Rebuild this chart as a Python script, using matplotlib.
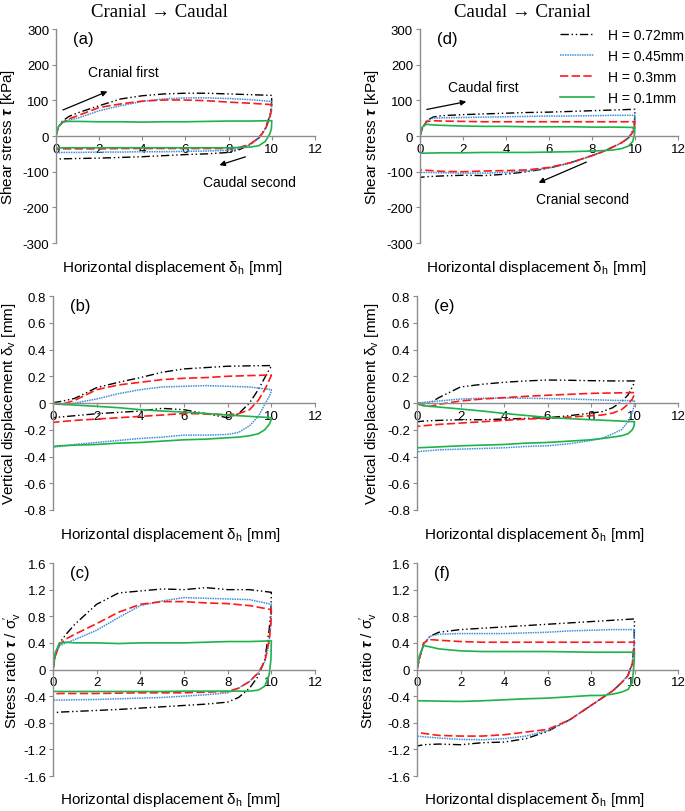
import numpy as np
import matplotlib
matplotlib.use("Agg")
import matplotlib.pyplot as plt
from matplotlib.ticker import FuncFormatter

plt.rcParams['font.family'] = ['Liberation Sans', 'DejaVu Sans']
plt.rcParams['axes.unicode_minus'] = False
plt.rcParams['mathtext.fontset'] = 'custom'
plt.rcParams['mathtext.rm'] = 'Liberation Sans'
plt.rcParams['mathtext.it'] = 'Liberation Sans:italic'
plt.rcParams['mathtext.bf'] = 'Liberation Sans:italic:bold'

# -------------------------------------------------
# Data
# each loop = loading branch (0 -> 10 mm) + unloading branch (10 -> 0 mm)
# -------------------------------------------------
x_load = [0, 0.1, 0.3, 0.6, 1, 2, 3, 4, 5, 6, 7, 8, 9, 10]
x_unload = [10, 9.98, 9.9, 9.7, 9.4, 9, 8.5, 8, 7, 6, 5, 4, 3, 2, 1, 0.3, 0]

series_labels = ["H = 0.72mm", "H = 0.45mm", "H = 0.3mm", "H = 0.1mm"]

# (a) shear stress, cranial -> caudal [kPa]
tau_a_072 = [0, 25, 42, 55, 65, 85, 104, 113, 118, 120, 120, 118, 116, 114,
             114, 85, 55, 22, -5, -24, -38, -46, -50, -52, -55, -58, -60, -62, -63, -64, -65]
tau_a_045 = [0, 25, 38, 45, 50, 71, 85, 97, 104, 107, 107, 105, 102, 97,
             97, 75, 55, 20, -5, -24, -35, -40, -42, -43, -44, -44, -45, -45, -46, -46, -47]
tau_a_03 = [0, 25, 38, 48, 57, 80, 90, 98, 101, 101, 99, 95, 92, 88,
            88, 70, 50, 18, -5, -22, -32, -35, -35, -35, -35, -35, -35, -36, -36, -36, -37]
tau_a_01 = [0, 25, 40, 41, 41, 40, 40, 39, 40, 40, 41, 42, 42, 43,
            43, 20, 5, -15, -27, -31, -32, -33, -33, -33, -33, -33, -33, -33, -33, -33, -34]

# (d) shear stress, caudal -> cranial [kPa]
tau_d_072 = [0, 20, 42, 53, 57, 60, 62, 64, 66, 67, 69, 71, 73, 75,
             75, 40, 15, -5, -18, -30, -44, -55, -75, -90, -100, -107, -111, -110, -112, -114, -116]
tau_d_045 = [0, 20, 42, 50, 51, 52, 53, 54, 55, 56, 56, 57, 58, 58,
             58, 35, 12, -5, -18, -30, -44, -55, -75, -90, -98, -102, -104, -104, -103, -102, -102]
tau_d_03 = [0, 22, 40, 43, 42, 41, 40, 40, 40, 40, 40, 40, 40, 40,
            40, 25, 10, -5, -18, -30, -44, -55, -75, -88, -95, -97, -98, -100, -99, -96, -95]
tau_d_01 = [0, 25, 33, 31, 30, 28, 27, 27, 26, 26, 26, 25, 25, 24,
            24, 5, -15, -28, -35, -39, -41, -42, -44, -45, -46, -46, -46, -47, -47, -48, -48]

# (b) vertical displacement, cranial -> caudal [mm]
dv_b_072 = [0, 0.005, 0.01, 0.02, 0.035, 0.115, 0.155, 0.19, 0.23, 0.255, 0.265, 0.275, 0.278, 0.28,
            0.28, 0.27, 0.25, 0.19, 0.1, 0.0, -0.08, -0.11, -0.08, -0.05, -0.04, -0.06, -0.07, -0.08, -0.095, -0.105, -0.11]
dv_b_045 = [0, -0.005, -0.01, -0.01, 0.0, 0.03, 0.07, 0.1, 0.12, 0.125, 0.13, 0.125, 0.12, 0.1,
            0.1, 0.08, 0.05, -0.01, -0.1, -0.17, -0.22, -0.235, -0.24, -0.24, -0.255, -0.265, -0.28, -0.295, -0.31, -0.325, -0.33]
dv_b_03 = [0, -0.005, -0.01, 0.0, 0.02, 0.1, 0.135, 0.155, 0.175, 0.185, 0.19, 0.2, 0.205, 0.21,
           0.21, 0.2, 0.17, 0.1, 0.02, -0.05, -0.08, -0.088, -0.082, -0.078, -0.09, -0.1, -0.11, -0.12, -0.13, -0.14, -0.145]
dv_b_01 = [0, -0.003, -0.008, -0.012, -0.015, -0.025, -0.035, -0.05, -0.06, -0.068, -0.078, -0.09, -0.1, -0.11,
           -0.11, -0.13, -0.16, -0.2, -0.23, -0.245, -0.255, -0.26, -0.27, -0.275, -0.285, -0.295, -0.3, -0.31, -0.315, -0.32, -0.325]

# (e) vertical displacement, caudal -> cranial [mm]
dv_e_072 = [0, -0.002, -0.005, 0.0, 0.04, 0.12, 0.14, 0.155, 0.165, 0.172, 0.17, 0.167, 0.165, 0.165,
            0.165, 0.15, 0.12, 0.06, 0.01, -0.035, -0.065, -0.075, -0.095, -0.11, -0.115, -0.12, -0.125, -0.125, -0.13, -0.135, -0.14]
dv_e_045 = [0, 0.0, 0.005, 0.01, 0.015, 0.03, 0.035, 0.038, 0.036, 0.033, 0.03, 0.025, 0.02, 0.017,
            0.017, -0.02, -0.07, -0.14, -0.2, -0.23, -0.265, -0.28, -0.305, -0.32, -0.325, -0.335, -0.34, -0.345, -0.35, -0.36, -0.365]
dv_e_03 = [0, -0.01, -0.02, -0.025, -0.01, 0.015, 0.03, 0.04, 0.05, 0.058, 0.065, 0.072, 0.075, 0.078,
           0.078, 0.06, 0.03, -0.01, -0.05, -0.075, -0.09, -0.095, -0.105, -0.115, -0.12, -0.13, -0.14, -0.15, -0.16, -0.17, -0.175]
dv_e_01 = [0, -0.01, -0.02, -0.025, -0.03, -0.045, -0.06, -0.078, -0.093, -0.108, -0.117, -0.125, -0.132, -0.14,
           -0.14, -0.17, -0.2, -0.23, -0.245, -0.255, -0.265, -0.275, -0.285, -0.295, -0.3, -0.31, -0.315, -0.32, -0.328, -0.333, -0.335]

# (c) stress ratio, cranial -> caudal
sr_c_072 = [0, 0.2, 0.4, 0.53, 0.68, 0.98, 1.15, 1.18, 1.21, 1.2, 1.23, 1.2, 1.2, 1.16,
            1.16, 0.9, 0.6, 0.15, -0.1, -0.28, -0.42, -0.49, -0.52, -0.54, -0.56, -0.58, -0.6, -0.615, -0.63, -0.64, -0.65]
sr_c_045 = [0, 0.2, 0.36, 0.4, 0.45, 0.59, 0.78, 0.96, 1.03, 1.08, 1.07, 1.06, 1.05, 0.98,
            0.98, 0.7, 0.4, 0.12, -0.05, -0.18, -0.28, -0.35, -0.38, -0.4, -0.42, -0.43, -0.44, -0.45, -0.455, -0.46, -0.46]
sr_c_03 = [0, 0.2, 0.38, 0.46, 0.53, 0.69, 0.86, 0.98, 1.02, 1.02, 1.0, 0.99, 0.96, 0.9,
           0.9, 0.7, 0.45, 0.12, -0.05, -0.18, -0.28, -0.33, -0.34, -0.35, -0.35, -0.35, -0.355, -0.36, -0.36, -0.36, -0.37]
sr_c_01 = [0, 0.25, 0.4, 0.41, 0.4, 0.4, 0.39, 0.4, 0.4, 0.4, 0.41, 0.42, 0.42, 0.43,
           0.43, 0.15, -0.08, -0.25, -0.31, -0.325, -0.325, -0.325, -0.325, -0.325, -0.33, -0.33, -0.33, -0.33, -0.33, -0.33, -0.33]

# (f) stress ratio, caudal -> cranial
sr_f_072 = [0, 0.15, 0.38, 0.5, 0.56, 0.6, 0.62, 0.64, 0.66, 0.68, 0.7, 0.72, 0.74, 0.76,
            0.76, 0.4, 0.1, -0.09, -0.2, -0.32, -0.43, -0.54, -0.76, -0.93, -1.04, -1.09, -1.1, -1.13, -1.12, -1.13, -1.15]
sr_f_045 = [0, 0.15, 0.38, 0.5, 0.53, 0.54, 0.54, 0.54, 0.55, 0.56, 0.58, 0.59, 0.6, 0.6,
            0.6, 0.35, 0.1, -0.09, -0.2, -0.32, -0.43, -0.54, -0.76, -0.92, -1.0, -1.04, -1.055, -1.05, -1.03, -1.01, -1.0]
sr_f_03 = [0, 0.15, 0.4, 0.45, 0.44, 0.42, 0.41, 0.41, 0.41, 0.41, 0.41, 0.41, 0.41, 0.41,
           0.41, 0.25, 0.08, -0.09, -0.2, -0.32, -0.43, -0.54, -0.76, -0.9, -0.94, -0.98, -1.0, -1.0, -0.99, -0.96, -0.94]
sr_f_01 = [0, 0.2, 0.36, 0.34, 0.31, 0.28, 0.27, 0.27, 0.27, 0.27, 0.265, 0.26, 0.26, 0.26,
           0.26, 0.1, -0.2, -0.3, -0.34, -0.37, -0.39, -0.39, -0.41, -0.43, -0.44, -0.455, -0.47, -0.48, -0.475, -0.47, -0.47]

# -------------------------------------------------
# Styles
# -------------------------------------------------
colores = ["black", "#3d8fd9", "#ff1a1a", "#1db34a"]
estilos = [(0, (6, 2, 1, 2, 1, 2)), (0, (1, 0.6)), (0, (5, 2)), "-"]
anchos = [1.0, 1.1, 1.2, 1.2]

lab_x = r"Horizontal displacement $\mathrm{\delta}_\mathrm{h}$ [mm]"
lab_tau = r"Shear stress $\mathbf{\tau}$ [kPa]"
lab_dv = r"Vertical displacement $\mathrm{\delta}_\mathrm{v}$ [mm]"
lab_sr = r"Stress ratio $\mathbf{\tau}$ / $\mathrm{\sigma}_\mathrm{v}^{\prime}$"

x_loop = x_load + x_unload


def fmt_tick(v, pos):
    return f"{round(v, 2) + 0:g}"


def dibujar_panel(ax, curvas, ylim, yticks, ylabel, letra, ylab_x):
    lineas = []
    for y, c, ls, lw, lab in zip(curvas, colores, estilos, anchos, series_labels):
        ln, = ax.plot(x_loop, y, color=c, linestyle=ls, lw=lw, label=lab)
        lineas.append(ln)

    ax.set_xlim(0, 12)
    ax.set_ylim(*ylim)
    ax.set_xticks(range(0, 13, 2))
    ax.set_yticks(yticks)
    ax.yaxis.set_major_formatter(FuncFormatter(fmt_tick))

    for s in ["top", "right"]:
        ax.spines[s].set_visible(False)
    ax.spines["bottom"].set_position(("data", 0))
    ax.spines["left"].set_position(("data", 0))
    for s in ["bottom", "left"]:
        ax.spines[s].set_color("#8c8c8c")
        ax.spines[s].set_linewidth(1.0)
    ax.tick_params(axis="both", labelsize=9.5, length=3, width=0.8,
                   color="#8c8c8c", direction="out", pad=2)

    ax.set_ylabel(ylabel, fontsize=11)
    ax.yaxis.set_label_coords(ylab_x, 0.5)
    ax.text(0.45, -0.11, lab_x, transform=ax.transAxes, fontsize=11,
            ha="center", va="center")
    ax.text(0.065, 0.955, letra, transform=ax.transAxes, fontsize=12,
            ha="left", va="center")
    return lineas


fig = plt.figure(figsize=(6.85, 8.12), dpi=100)

# rectangles in figure fraction: [left, bottom, width, height]
ax_a = fig.add_axes([0.0818, 0.6995, 0.378, 0.2635])
ax_d = fig.add_axes([0.6131, 0.6995, 0.3766, 0.2635])
ax_b = fig.add_axes([0.0774, 0.3707, 0.3825, 0.2635])
ax_e = fig.add_axes([0.6088, 0.3707, 0.381, 0.2635])
ax_c = fig.add_axes([0.0774, 0.0431, 0.3825, 0.2623])
ax_f = fig.add_axes([0.6088, 0.0431, 0.381, 0.2623])

t_ticks = range(-300, 301, 100)
v_ticks = np.arange(-0.8, 0.81, 0.2)
r_ticks = np.arange(-1.6, 1.61, 0.4)

dibujar_panel(ax_a, [tau_a_072, tau_a_045, tau_a_03, tau_a_01], (-300, 300), t_ticks, lab_tau, "(a)", -0.151)
lineas_d = dibujar_panel(ax_d, [tau_d_072, tau_d_045, tau_d_03, tau_d_01], (-300, 300), t_ticks, lab_tau, "(d)", -0.151)
dibujar_panel(ax_b, [dv_b_072, dv_b_045, dv_b_03, dv_b_01], (-0.8, 0.8), v_ticks, lab_dv, "(b)", -0.134)
dibujar_panel(ax_e, [dv_e_072, dv_e_045, dv_e_03, dv_e_01], (-0.8, 0.8), v_ticks, lab_dv, "(e)", -0.138)
dibujar_panel(ax_c, [sr_c_072, sr_c_045, sr_c_03, sr_c_01], (-1.6, 1.6), r_ticks, lab_sr, "(c)", -0.11)
dibujar_panel(ax_f, [sr_f_072, sr_f_045, sr_f_03, sr_f_01], (-1.6, 1.6), r_ticks, lab_sr, "(f)", -0.142)

# column titles
fig.text(0.233, 0.985, "Cranial \u2192 Caudal", fontsize=13.5, ha="center", va="center",
         family=["Liberation Serif", "DejaVu Serif"])
fig.text(0.763, 0.985, "Caudal \u2192 Cranial", fontsize=13.5, ha="center", va="center",
         family=["Liberation Serif", "DejaVu Serif"])

# direction arrows
flecha = dict(arrowstyle="-|>", color="black", lw=0.9, mutation_scale=8)
ax_a.annotate("", xy=(2.5, 128), xytext=(0.2, 70), arrowprops=flecha)
ax_a.text(3.1, 179, "Cranial first", fontsize=10, ha="center", va="center")
ax_a.annotate("", xy=(7.45, -84), xytext=(8.9, -56), arrowprops=flecha)
ax_a.text(8.95, -129, "Caudal second", fontsize=10, ha="center", va="center")

ax_d.annotate("", xy=(2.28, 98), xytext=(0.19, 73), arrowprops=flecha)
ax_d.text(2.93, 137, "Caudal first", fontsize=10, ha="center", va="center")
ax_d.annotate("", xy=(5.4, -134), xytext=(7.86, -70), arrowprops=flecha)
ax_d.text(7.55, -176, "Cranial second", fontsize=10, ha="center", va="center")

# legend (only in panel d)
ax_d.legend(handles=lineas_d, loc="upper left", bbox_to_anchor=(0.808, 0.973),
            bbox_transform=fig.transFigure, frameon=False, fontsize=10,
            handlelength=2.4, handletextpad=1.0, labelspacing=0.5, borderpad=0)

fig.savefig("out.png", dpi=100)
